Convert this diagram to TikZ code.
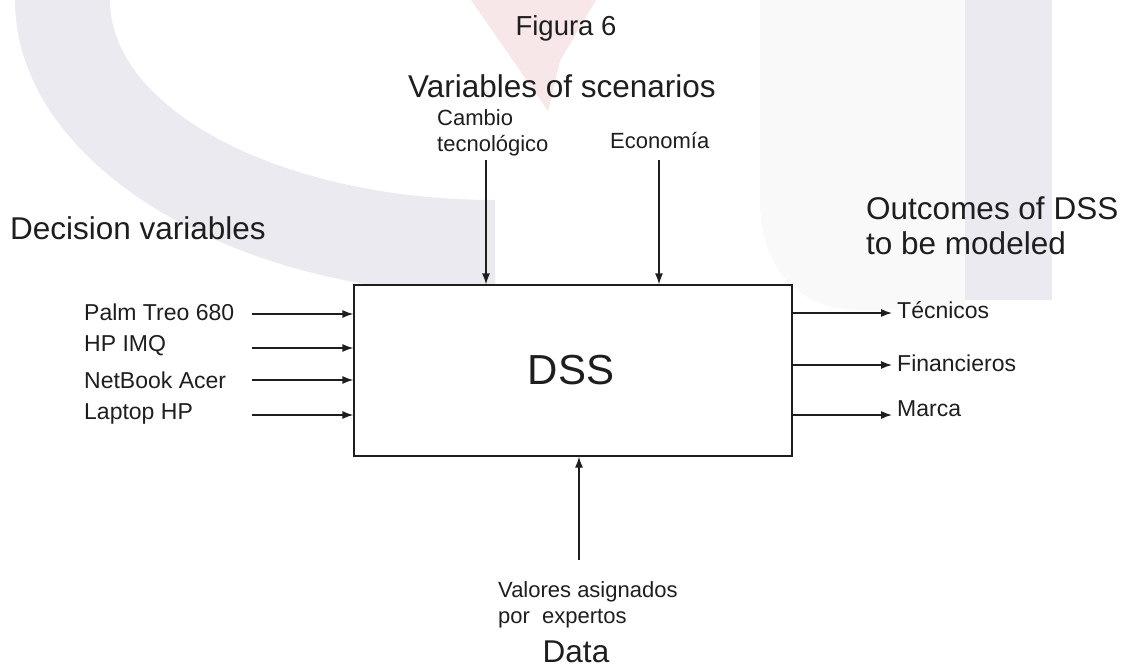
\documentclass[tikz,border=0pt]{standalone}
\usepackage{fontspec}
\setmainfont{Liberation Sans}
\usetikzlibrary{arrows.meta}
\definecolor{wmgray}{RGB}{234,234,240}
\definecolor{wmlight}{RGB}{249,249,250}
\definecolor{wmpink}{RGB}{248,231,233}
\definecolor{ink}{RGB}{30,30,30}
\begin{document}
\begin{tikzpicture}[x=1pt,y=-1pt,
  lbl/.style={inner sep=0pt, font=\fontsize{22}{26}\selectfont, text=ink},
  side/.style={lbl, font=\fontsize{23}{27}\selectfont},
  big/.style={inner sep=0pt, font=\fontsize{31.5}{35}\selectfont, text=ink},
  conn/.style={-{Latex[length=11pt,width=8pt]}, line width=1.3pt, draw=ink}]
\useasboundingbox (0,0) rectangle (1127,669);
% faint watermark
\fill[wmgray] (15,0) .. controls (15,163) and (230,295) .. (495,295)
  -- (495,200) .. controls (282,200) and (110,110) .. (110,0) -- cycle;
\fill[wmlight] (760,0) -- (965,0) -- (965,310) -- (860,310) .. controls (800,310) and (760,270) .. (760,200) -- cycle;
\fill[wmgray] (965,0) rectangle (1052,300);
\fill[wmpink] (471,0) -- (596,0) -- (560,61) -- (548,111) -- cycle;
% box
\node[draw=ink, line width=1.3pt, fill=white, minimum width=438pt, minimum height=171pt, inner sep=0pt] (dss) at (573,370.5) {};
\node[inner sep=0pt, font=\fontsize{42}{46}\selectfont, text=ink] (dsst) at (571,370) {DSS};
% titles
\node[inner sep=0pt, font=\fontsize{27.5}{32}\selectfont, text=ink] (fig) at (566,28) {Figura 6};
\node[big] (vos) at (562,86) {Variables of scenarios};
\node[big, anchor=west] (dv) at (10,228) {Decision variables};
\node[big, anchor=west, align=left] (out) at (866,226) {Outcomes of DSS\\to be modeled};
\node[big] (data) at (576,652) {Data};
% top inputs
\node[lbl, anchor=west, align=left] (cambio) at (437,133) {Cambio\\tecnológico};
\node[lbl, anchor=west] (eco) at (610,141) {Economía};
\coordinate (c1) at (486,160);
\coordinate (c2) at (659,160);
\draw[conn] (c1) -- (c1 |- dss.north);
\draw[conn] (c2) -- (c2 |- dss.north);
% left inputs
\node[side, anchor=west] (p1) at (84,312) {Palm Treo 680};
\node[side, anchor=west] (p2) at (84,346) {HP IMQ};
\node[side, anchor=west] (p3) at (84,380) {NetBook Acer};
\node[side, anchor=west] (p4) at (84,414) {Laptop HP};
\foreach \n/\y in {1/314,2/348,3/380,4/415}{
  \coordinate (s\n) at (252,\y);
  \draw[conn] (s\n) -- (s\n -| dss.west);
}
% right outputs
\node[side, anchor=west] (o1) at (897,310) {Técnicos};
\node[side, anchor=west] (o2) at (897,363) {Financieros};
\node[side, anchor=west] (o3) at (897,409) {Marca};
\foreach \n/\y in {1/313,2/365,3/415}{
  \coordinate (e\n) at (892,\y);
  \draw[conn] (e\n -| dss.east) -- (e\n);
}
% bottom input
\node[lbl, anchor=west, align=left] (val) at (498,605) {Valores asignados\\por\ \ expertos};
\coordinate (b1) at (579,560);
\draw[conn] (b1) -- (b1 |- dss.south);
\end{tikzpicture}
\end{document}
